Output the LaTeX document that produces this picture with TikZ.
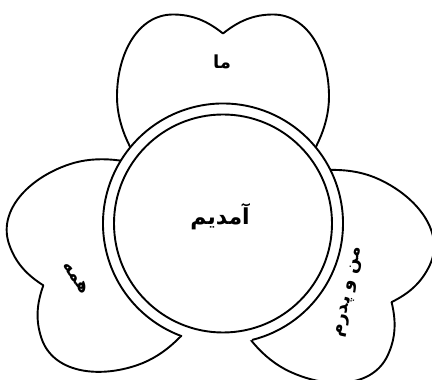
\documentclass[tikz,border=0pt]{standalone}
\usepackage{fontspec}
\newfontfamily\farsi[Script=Arabic]{DejaVu Sans}
\TeXXeTstate=1
\usetikzlibrary{calc}

\begin{document}
\begin{tikzpicture}[
    x=1pt, y=1pt,
    petal/.style={draw, fill=white, line width=1.9pt, line join=round},
    ring/.style={draw, line width=1.9pt},
    word/.style={font=\farsi\bfseries\fontsize{18}{20}\selectfont},
    bigword/.style={font=\farsi\bfseries\fontsize{22}{26}\selectfont},
]
\useasboundingbox (0,0) rectangle (432,380);

% centre of the ring
\coordinate (mid) at (223,156.5);

% Hearts round the ring
\foreach \ang/\dist in {90/190, 199/190, -25/186} {
  \draw[petal, shift={($(mid)+(\ang:\dist)$)}, rotate=\ang-90]
    (0,0) .. controls (-15,12) and (-30,19) .. (-50,19)
    .. controls (-85,19) and (-106,-20) .. (-106,-63)
    .. controls (-106,-125) and (-45,-175) .. (0,-225)
    .. controls (45,-175) and (106,-125) .. (106,-63)
    .. controls (106,-20) and (85,19) .. (50,19)
    .. controls (30,19) and (15,12) .. (0,0) -- cycle;
}

% Ring over the hearts
\fill[white] (mid) circle[radius=120];
\draw[ring] ($(mid)+(284:120)$) arc[start angle=284, end angle=610, radius=120];
\draw[ring] (mid) circle[radius=109];

% Labels
\node[bigword] (centre) at (220,163) {\beginR آمدیم\endR};
\node[word] (top) at (222,318) {\beginR ما\endR};
\node[word, rotate=-56] (left) at (76,102) {\beginR همه\endR};
\node[word, rotate=78] (right) at (350,88) {\beginR من و پدرم\endR};

\end{tikzpicture}
\end{document}
